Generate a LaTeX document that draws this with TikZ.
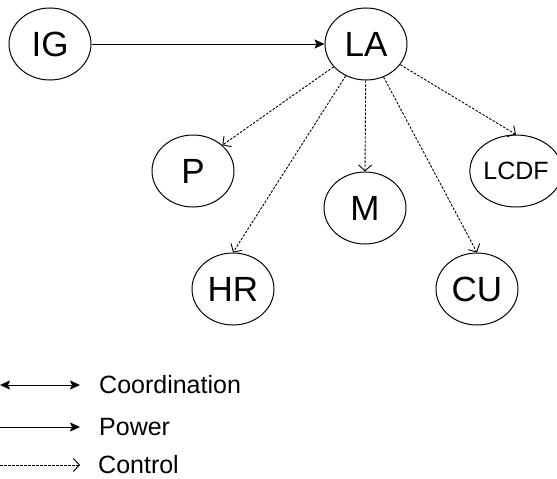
\documentclass[tikz,border=0pt]{standalone}
\usepackage{fontspec}
\setmainfont{Liberation Sans}
\usetikzlibrary{shapes.geometric, arrows.meta}

\begin{document}
\begin{tikzpicture}[
    x=1pt, y=-1pt,
    unit/.style={ellipse, draw=black, line width=1pt, minimum width=82pt, minimum height=72pt, inner sep=0pt, font=\fontsize{35}{40}\selectfont},
    power/.style={line width=1pt, -{Stealth[length=10pt, width=9pt, inset=2pt]}},
    coord/.style={line width=1pt, {Stealth[length=10pt, width=9pt, inset=2pt]}-{Stealth[length=10pt, width=9pt, inset=2pt]}},
    control/.style={line width=0.9pt, dash pattern=on 2.5pt off 1.5pt, -{Straight Barb[length=6pt, width=13pt, line width=0.9pt]}},
    legend/.style={anchor=west, inner sep=0pt, font=\fontsize{25}{29}\selectfont},
]
\useasboundingbox (0,0) rectangle (557,479);

% Top level
\node[unit] (ig) at (50,44) {IG};
\node[unit] (la) at (366,44) {LA};

% Units under LA
\node[unit] (p) at (193,171) {P};
\node[unit] (m) at (365,208) {M};
\node[unit, minimum width=80pt, font=\fontsize{25}{29}\selectfont] (lcdf) at (516,171) {LCDF};
\node[unit] (hr) at (233,289) {HR};
\node[unit] (cu) at (477,289) {CU};

% Power
\draw[power] (ig) -- (la);

% Control
\draw[control] (la) -- (p.north east);
\draw[control] (la) -- (hr.north);
\draw[control] (la) -- (m.north);
\draw[control] (la) -- (cu.north);
\draw[control] (la) -- (lcdf.north);

% Legend
\coordinate (c1) at (0,385);
\coordinate (c2) at (80,385);
\coordinate (p1) at (0,427);
\coordinate (p2) at (80,427);
\coordinate (k1) at (0,465);
\coordinate (k2) at (80,465);
\draw[coord] (c1) -- (c2);
\draw[power] (p1) -- (p2);
\draw[control] (k1) -- (k2);
\node[legend] (coordtext) at (99,385) {Coordination};
\node[legend] (powertext) at (99,427) {Power};
\node[legend] (controltext) at (98,465) {Control};

\end{tikzpicture}
\end{document}
